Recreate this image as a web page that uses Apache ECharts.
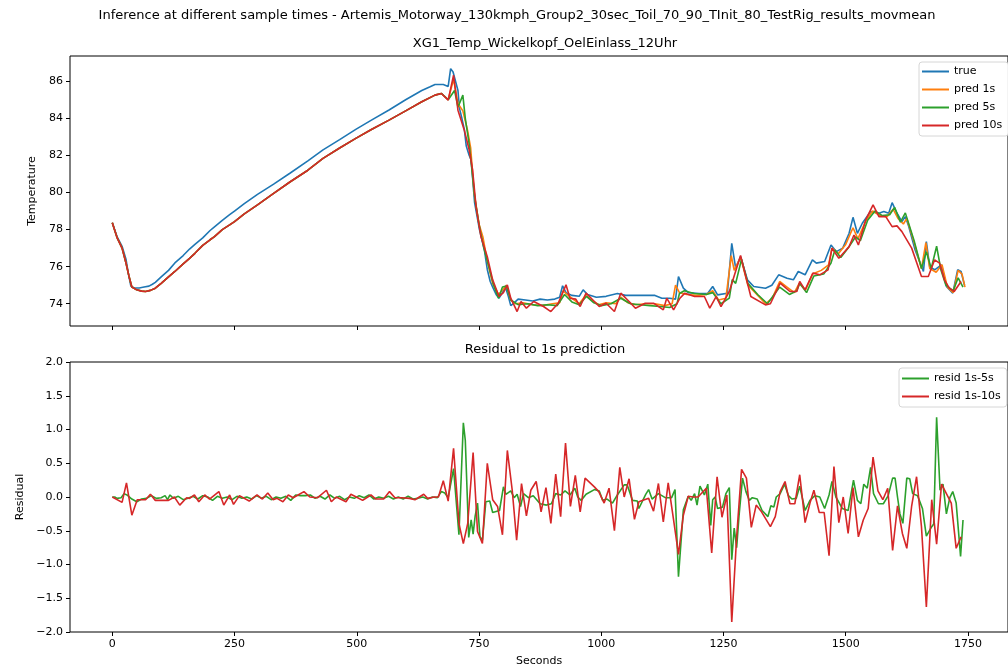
<!DOCTYPE html>
<html>
<head>
<meta charset="utf-8">
<title>Inference at different sample times</title>
<style>
  html, body { margin: 0; padding: 0; background: #fff; }
  #main { width: 1008px; height: 669px; }
</style>
</head>
<body>
<div id="main"></div>
<script src="https://cdn.jsdelivr.net/npm/echarts@6/dist/echarts.min.js"></script>
<script>
// values, [seconds, value]
const trueTemp = [[0,78.37],[10,77.6],[20,77.1],[28,76.4],[33,75.6],[38,74.95],[45,74.85],[55,74.85],[65,74.9],[75,74.95],[82,75.05],[88,75.15],[100,75.45],[115,75.8],[128,76.2],[145,76.6],[158,76.95],[169,77.2],[185,77.55],[200,77.95],[209,78.15],[225,78.5],[240,78.8],[250,79.0],[270,79.4],[297,79.9],[330,80.45],[364,81.05],[400,81.7],[431,82.3],[465,82.85],[498,83.4],[530,83.9],[566,84.45],[600,85.0],[633,85.5],[650,85.7],[660,85.82],[677,85.82],[687,85.72],[692,86.68],[697,86.5],[702,86.0],[707,85.5],[710,84.55],[715,84.0],[720,83.4],[724,82.5],[730,82.0],[734,81.75],[741,79.45],[751,78.0],[761,76.9],[767,75.85],[773,75.2],[778,74.9],[785,74.5],[791,74.3],[798,74.6],[804,74.9],[810,74.4],[815,73.9],[822,74.05],[830,74.25],[845,74.2],[860,74.15],[875,74.25],[890,74.2],[905,74.25],[915,74.35],[921,74.97],[928,74.6],[940,74.45],[955,74.4],[963,74.75],[972,74.5],[990,74.35],[1010,74.4],[1033,74.55],[1050,74.45],[1070,74.45],[1090,74.45],[1110,74.45],[1124,74.3],[1140,74.3],[1152,74.25],[1158,75.47],[1168,74.84],[1178,74.6],[1200,74.55],[1218,74.57],[1228,74.93],[1238,74.48],[1258,74.57],[1267,77.26],[1275,75.92],[1285,76.54],[1299,75.29],[1312,74.93],[1336,74.84],[1349,75.0],[1363,75.56],[1380,75.38],[1393,75.29],[1403,75.74],[1417,75.56],[1432,76.37],[1440,76.19],[1457,76.28],[1470,77.17],[1481,76.81],[1494,77.0],[1507,77.8],[1515,78.66],[1524,77.8],[1534,78.34],[1551,78.97],[1568,78.88],[1578,78.97],[1588,78.88],[1595,79.45],[1605,78.88],[1615,78.43],[1622,78.7],[1629,78.16],[1642,76.9],[1659,75.74],[1665,77.35],[1672,75.98],[1682,75.83],[1696,76.1],[1706,74.93],[1719,74.57],[1729,75.83],[1736,75.74],[1743,75.0]];

const pred1s = [[0,78.37],[10,77.55],[20,77.0],[28,76.2],[34,75.5],[40,74.9],[50,74.75],[60,74.68],[68,74.66],[78,74.72],[88,74.84],[100,75.1],[115,75.45],[128,75.74],[145,76.15],[158,76.45],[169,76.72],[185,77.15],[200,77.45],[209,77.62],[225,78.0],[240,78.25],[250,78.43],[270,78.85],[297,79.33],[330,79.95],[364,80.58],[400,81.2],[431,81.84],[465,82.4],[498,82.92],[530,83.4],[566,83.9],[600,84.4],[633,84.89],[660,85.25],[673,85.34],[687,85.0],[698,86.1],[707,84.8],[717,84.4],[727,83.3],[733,82.4],[740,80.0],[750,78.3],[758,77.6],[767,76.3],[778,75.1],[790,74.5],[800,74.8],[806,75.0],[815,74.2],[825,74.0],[840,74.05],[860,73.95],[880,73.9],[900,74.0],[915,74.05],[922,74.7],[930,74.5],[945,74.2],[955,74.0],[968,74.45],[980,74.2],[995,73.95],[1010,74.05],[1030,74.0],[1040,74.35],[1055,74.05],[1070,73.95],[1090,74.0],[1110,74.0],[1130,73.9],[1145,74.0],[1152,75.0],[1160,74.6],[1175,74.5],[1195,74.45],[1215,74.5],[1228,74.7],[1240,74.2],[1255,74.3],[1266,76.6],[1272,75.8],[1285,76.5],[1300,75.0],[1315,74.6],[1336,74.0],[1350,74.3],[1365,75.2],[1380,74.9],[1395,74.6],[1405,75.1],[1418,74.75],[1432,75.6],[1450,75.8],[1465,76.1],[1472,77.0],[1485,76.7],[1500,77.2],[1515,78.1],[1525,77.5],[1540,78.4],[1555,79.0],[1570,78.75],[1585,78.7],[1597,79.1],[1607,78.6],[1618,78.3],[1625,78.6],[1640,77.3],[1655,75.9],[1664,77.3],[1672,75.9],[1685,75.7],[1697,76.1],[1708,74.9],[1720,74.6],[1730,75.8],[1738,75.6],[1744,74.9]];

const pred5s = [[0,78.37],[10,77.55],[20,77.0],[28,76.2],[34,75.5],[40,74.9],[50,74.75],[60,74.68],[68,74.66],[78,74.72],[88,74.84],[100,75.1],[115,75.45],[128,75.74],[145,76.15],[158,76.45],[169,76.72],[185,77.15],[200,77.45],[209,77.62],[225,78.0],[240,78.25],[250,78.43],[270,78.85],[297,79.33],[330,79.95],[364,80.58],[400,81.2],[431,81.84],[465,82.4],[498,82.92],[530,83.4],[566,83.9],[600,84.4],[633,84.89],[660,85.25],[673,85.34],[687,85.0],[700,85.5],[707,84.6],[717,85.25],[722,84.0],[730,82.6],[742,79.6],[752,78.0],[760,77.0],[770,76.0],[780,75.0],[790,74.3],[798,74.9],[806,74.95],[815,74.2],[830,73.95],[850,74.0],[870,73.9],[890,73.95],[910,73.9],[925,74.5],[940,74.1],[955,73.95],[970,74.4],[985,74.05],[1000,73.9],[1020,74.0],[1040,74.3],[1060,74.0],[1080,73.95],[1100,73.9],[1120,73.85],[1140,73.8],[1155,74.0],[1160,74.55],[1170,74.7],[1190,74.55],[1215,74.5],[1228,74.6],[1245,74.0],[1262,74.3],[1268,75.3],[1275,75.1],[1287,76.4],[1300,75.1],[1320,74.5],[1340,74.0],[1365,74.9],[1385,74.5],[1400,74.7],[1406,75.1],[1420,74.6],[1435,75.5],[1455,75.6],[1470,76.2],[1478,76.9],[1490,76.5],[1505,77.0],[1520,77.6],[1530,77.4],[1545,78.5],[1560,79.0],[1575,78.75],[1590,78.8],[1600,79.2],[1612,78.4],[1622,78.9],[1640,77.4],[1655,75.9],[1665,76.8],[1675,75.9],[1686,77.1],[1695,75.8],[1705,75.0],[1720,74.7],[1730,75.4],[1740,74.9]];

const pred10s = [[0,78.37],[10,77.55],[20,77.0],[28,76.2],[34,75.5],[40,74.9],[50,74.75],[60,74.68],[68,74.66],[78,74.72],[88,74.84],[100,75.1],[115,75.45],[128,75.74],[145,76.15],[158,76.45],[169,76.72],[185,77.15],[200,77.45],[209,77.62],[225,78.0],[240,78.25],[250,78.43],[270,78.85],[297,79.33],[330,79.95],[364,80.58],[400,81.2],[431,81.84],[465,82.4],[498,82.92],[530,83.4],[566,83.9],[600,84.4],[633,84.89],[660,85.25],[673,85.34],[687,84.98],[698,86.32],[707,84.44],[720,83.36],[730,82.29],[737,81.2],[744,79.24],[754,77.62],[767,76.54],[778,75.29],[791,74.39],[800,74.6],[808,75.02],[815,74.3],[828,73.58],[836,74.12],[847,73.76],[862,74.12],[882,73.85],[897,73.58],[912,74.03],[928,75.02],[936,74.3],[948,74.25],[957,73.85],[969,74.57],[983,74.2],[996,73.85],[1010,74.03],[1027,73.58],[1040,74.57],[1057,74.12],[1070,73.76],[1090,74.03],[1107,74.03],[1127,73.67],[1134,74.3],[1148,73.67],[1161,74.3],[1171,74.57],[1191,74.39],[1211,74.39],[1222,73.76],[1235,74.39],[1245,73.85],[1262,74.66],[1285,76.6],[1306,74.39],[1336,73.94],[1346,74.0],[1366,75.11],[1386,74.66],[1400,74.66],[1406,75.2],[1417,74.75],[1433,75.65],[1447,75.56],[1464,75.83],[1472,77.0],[1486,76.45],[1507,77.08],[1517,77.71],[1526,77.17],[1541,78.52],[1556,79.33],[1568,78.7],[1582,78.7],[1595,78.16],[1605,78.2],[1615,77.89],[1635,77.0],[1655,75.47],[1669,75.47],[1682,76.37],[1692,76.19],[1702,75.29],[1712,74.84],[1722,74.66],[1736,75.2]];

const resid5s = [[0,0.0],[5,0.0],[10,-0.02],[18,-0.01],[24,0.05],[30,0.03],[40,-0.03],[50,-0.07],[60,-0.03],[70,-0.02],[80,0.02],[90,-0.02],[100,-0.01],[108,0.02],[113,-0.04],[118,0.03],[125,-0.02],[135,0.01],[145,-0.04],[155,-0.02],[165,0.01],[175,-0.03],[185,0.02],[195,0.0],[205,-0.05],[215,0.01],[225,-0.02],[235,0.0],[245,-0.04],[255,0.01],[265,-0.02],[275,0.0],[285,-0.03],[295,0.02],[305,-0.02],[315,0.01],[325,-0.04],[335,0.0],[345,-0.02],[355,0.01],[365,-0.05],[375,0.03],[385,0.02],[395,0.02],[405,0.03],[415,-0.02],[425,0.01],[435,-0.03],[445,0.03],[455,-0.02],[465,0.01],[475,-0.04],[485,0.0],[495,-0.02],[505,0.02],[515,-0.01],[525,0.03],[535,-0.03],[545,0.0],[555,-0.02],[565,0.01],[575,-0.03],[585,0.0],[595,-0.03],[605,0.01],[615,-0.03],[625,-0.02],[635,0.0],[645,-0.03],[655,0.0],[665,-0.01],[673,0.08],[680,0.06],[687,-0.01],[698,0.42],[709,-0.56],[718,1.1],[722,0.84],[729,-0.6],[734,-0.34],[738,-0.55],[742,-0.29],[747,-0.09],[752,-0.59],[757,-0.64],[764,-0.07],[772,-0.06],[778,-0.23],[792,-0.2],[800,0.15],[805,0.04],[815,0.09],[822,-0.01],[828,0.04],[835,-0.14],[841,0.05],[851,-0.01],[861,0.02],[875,-0.1],[888,-0.12],[898,-0.1],[907,0.05],[917,0.03],[926,0.09],[936,0.03],[946,0.13],[952,0.0],[959,-0.05],[969,0.04],[986,0.11],[996,0.09],[1003,-0.05],[1012,-0.03],[1023,-0.09],[1033,0.03],[1047,0.18],[1053,0.18],[1064,-0.05],[1074,-0.06],[1077,-0.17],[1091,0.04],[1097,0.11],[1104,-0.03],[1117,0.05],[1131,-0.01],[1144,-0.01],[1151,0.11],[1158,-1.18],[1168,-0.19],[1178,0.01],[1184,-0.05],[1191,0.05],[1196,-0.12],[1202,0.16],[1211,0.03],[1218,0.19],[1224,-0.42],[1228,-0.04],[1233,0.0],[1238,-0.17],[1248,-0.15],[1255,0.05],[1262,0.14],[1267,-0.93],[1272,-0.46],[1277,-0.75],[1282,-0.27],[1289,0.28],[1296,0.08],[1303,-0.05],[1309,-0.01],[1319,-0.03],[1329,-0.2],[1341,-0.29],[1347,-0.13],[1353,-0.15],[1358,0.0],[1366,0.05],[1375,0.19],[1383,0.02],[1390,-0.03],[1399,-0.02],[1406,0.16],[1417,-0.2],[1427,-0.05],[1437,0.02],[1447,0.0],[1457,-0.17],[1466,0.03],[1472,0.23],[1480,0.0],[1493,-0.17],[1505,-0.2],[1516,0.25],[1524,-0.05],[1531,-0.1],[1537,0.19],[1544,0.13],[1551,0.44],[1557,0.05],[1567,-0.1],[1577,-0.1],[1587,0.02],[1596,0.28],[1601,0.28],[1606,0.0],[1611,-0.25],[1617,-0.39],[1625,0.28],[1631,0.27],[1637,0.05],[1647,0.02],[1657,-0.17],[1665,-0.58],[1676,-0.44],[1680,-0.4],[1686,1.18],[1693,0.1],[1699,0.19],[1706,-0.25],[1713,-0.01],[1719,0.08],[1726,-0.09],[1735,-0.88],[1740,-0.34]];

const resid10s = [[0,0.0],[20,-0.08],[29,0.21],[40,-0.27],[51,-0.04],[68,-0.04],[78,0.04],[88,-0.05],[115,-0.05],[127,0.0],[138,-0.12],[152,-0.01],[158,-0.02],[168,0.03],[177,-0.07],[189,0.03],[199,-0.03],[218,0.08],[228,-0.12],[240,0.03],[248,-0.11],[260,0.02],[280,-0.06],[296,0.03],[307,-0.03],[318,0.06],[329,-0.04],[337,-0.02],[349,-0.07],[360,0.03],[370,-0.01],[380,0.03],[392,0.08],[404,0.0],[420,-0.01],[438,0.1],[448,-0.07],[458,0.0],[478,-0.07],[488,0.04],[502,-0.01],[512,-0.05],[529,0.03],[539,-0.03],[555,-0.03],[567,0.08],[578,-0.01],[592,-0.01],[608,-0.02],[619,-0.04],[637,0.04],[645,-0.02],[659,0.0],[667,0.0],[677,0.24],[687,-0.06],[698,0.72],[709,-0.39],[718,-0.69],[727,-0.39],[738,0.66],[747,-0.51],[757,-0.69],[767,0.5],[778,-0.04],[788,-0.14],[798,-0.56],[808,0.69],[818,0.1],[827,-0.64],[837,0.2],[847,-0.28],[856,0.1],[867,0.23],[877,-0.22],[887,0.14],[897,-0.39],[907,0.34],[917,-0.29],[927,0.8],[937,-0.14],[947,0.32],[957,-0.22],[967,0.28],[986,0.15],[995,0.08],[1006,-0.09],[1016,0.13],[1027,-0.5],[1038,0.44],[1047,0.0],[1057,0.27],[1068,-0.33],[1077,-0.07],[1097,-0.02],[1107,-0.21],[1117,0.2],[1127,-0.37],[1137,0.21],[1148,-0.34],[1158,-0.85],[1168,-0.27],[1178,0.01],[1188,0.0],[1198,0.0],[1215,0.13],[1226,-0.83],[1237,0.3],[1247,-0.3],[1257,0.03],[1267,-1.85],[1277,-0.59],[1287,0.41],[1297,0.28],[1307,-0.45],[1317,-0.12],[1327,-0.21],[1346,-0.44],[1356,-0.29],[1366,0.08],[1376,0.23],[1386,-0.1],[1396,-0.1],[1406,0.33],[1417,-0.38],[1427,-0.09],[1435,0.1],[1446,-0.23],[1456,-0.23],[1466,-0.87],[1476,0.45],[1486,-0.38],[1495,0.0],[1505,-0.54],[1515,0.14],[1526,-0.59],[1536,-0.34],[1546,-0.17],[1556,0.59],[1566,0.09],[1576,-0.04],[1586,0.13],[1596,-0.79],[1606,-0.13],[1616,-0.54],[1625,-0.76],[1635,-0.13],[1645,0.3],[1655,-0.44],[1665,-1.63],[1676,-0.04],[1686,-0.7],[1696,0.19],[1706,0.05],[1716,-0.09],[1726,-0.76],[1736,-0.59]];

const xTicks = [0, 250, 500, 750, 1000, 1250, 1500, 1750];
const tempTicks = [74, 76, 78, 80, 82, 84, 86];

const FONT = 'DejaVu Sans';
const tickText = { color: '#000', fontFamily: FONT, fontSize: 11 };
// axis lines are hidden (the grid border draws the box) but must not jump to zero
const noLine = { show: false, onZero: false };

function line(name, data, color, xi) {
  return {
    name: name, type: 'line', data: data,
    xAxisIndex: xi, yAxisIndex: xi,
    showSymbol: false, symbol: 'none',
    lineStyle: { color: color, width: 1.6 },
    itemStyle: { color: color },
    emphasis: { disabled: true }
  };
}

const legendBox = {
  orient: 'vertical', icon: 'rect', itemWidth: 27, itemHeight: 2, itemGap: 5,
  backgroundColor: '#fff', borderColor: '#d6d6d6', borderWidth: 1, borderRadius: 3,
  textStyle: { color: '#000', fontFamily: FONT, fontSize: 11, lineHeight: 13 }
};

var option = {
  animation: false,
  title: [
    { text: 'Inference at different sample times - Artemis_Motorway_130kmph_Group2_30sec_Toil_70_90_TInit_80_TestRig_results_movmean',
      left: 517, top: 16, textAlign: 'center', textVerticalAlign: 'middle', padding: 0,
      textStyle: { color: '#000', fontFamily: FONT, fontSize: 13, fontWeight: 'normal' } },
    { text: 'XG1_Temp_Wickelkopf_OelEinlass_12Uhr',
      left: 545, top: 44, textAlign: 'center', textVerticalAlign: 'middle', padding: 0,
      textStyle: { color: '#000', fontFamily: FONT, fontSize: 13, fontWeight: 'normal' } },
    { text: 'Residual to 1s prediction',
      left: 545, top: 350, textAlign: 'center', textVerticalAlign: 'middle', padding: 0,
      textStyle: { color: '#000', fontFamily: FONT, fontSize: 13, fontWeight: 'normal' } }
  ],
  legend: [
    Object.assign({}, legendBox, { left: 919, top: 62, padding: [3, 6, 4, 3],
      data: ['true', 'pred 1s', 'pred 5s', 'pred 10s'] }),
    Object.assign({}, legendBox, { left: 899, top: 368, padding: [4, 6, 4, 3],
      data: ['resid 1s-5s', 'resid 1s-10s'] })
  ],
  grid: [
    { left: 70, top: 56, width: 948, height: 270, show: true, borderColor: '#000', borderWidth: 1, backgroundColor: '#fff' },
    { left: 70, top: 362, width: 948, height: 270, show: true, borderColor: '#000', borderWidth: 1, backgroundColor: '#fff' }
  ],
  xAxis: [
    { type: 'value', gridIndex: 0, min: -86.5, max: 1832,
      axisLine: noLine, splitLine: { show: false },
      axisTick: { customValues: xTicks, length: 4, lineStyle: { color: '#000' } },
      axisLabel: { show: false } },
    { type: 'value', gridIndex: 1, min: -86.5, max: 1832,
      name: 'Seconds', nameLocation: 'middle', nameGap: 24,
      nameTextStyle: tickText,
      axisLine: noLine, splitLine: { show: false },
      axisTick: { customValues: xTicks, length: 4, lineStyle: { color: '#000' } },
      axisLabel: Object.assign({ customValues: xTicks, margin: 7,
        formatter: v => String(v) }, tickText) }
  ],
  yAxis: [
    { type: 'value', gridIndex: 0, min: 72.8, max: 87.36,
      name: 'Temperature', nameLocation: 'middle', nameGap: 30,
      nameTextStyle: tickText,
      axisLine: noLine, splitLine: { show: false },
      axisTick: { customValues: tempTicks, length: 4, lineStyle: { color: '#000' } },
      axisLabel: Object.assign({ customValues: tempTicks, margin: 7,
        formatter: v => String(v) }, tickText) },
    { type: 'value', gridIndex: 1, min: -2, max: 2, interval: 0.5,
      name: 'Residual', nameLocation: 'middle', nameGap: 44,
      nameTextStyle: tickText,
      axisLine: noLine, splitLine: { show: false },
      axisTick: { length: 4, lineStyle: { color: '#000' } },
      axisLabel: Object.assign({ margin: 7,
        formatter: v => v.toFixed(1).replace('-', '\u2212') }, tickText) }
  ],
  series: [
    line('true', trueTemp, '#1f77b4', 0),
    line('pred 1s', pred1s, '#ff7f0e', 0),
    line('pred 5s', pred5s, '#2ca02c', 0),
    line('pred 10s', pred10s, '#d62728', 0),
    line('resid 1s-5s', resid5s, '#2ca02c', 1),
    line('resid 1s-10s', resid10s, '#d62728', 1)
  ]
};

echarts.init(document.getElementById('main')).setOption(option);
</script>
</body>
</html>
